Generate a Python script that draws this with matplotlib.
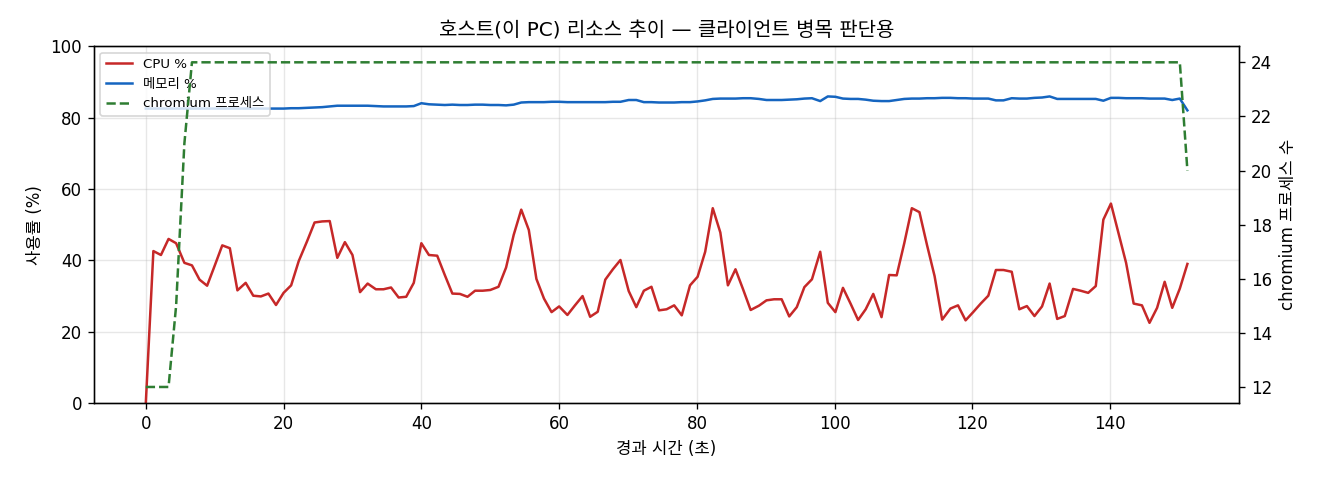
import matplotlib
matplotlib.use("Agg")
import matplotlib.pyplot as plt

plt.rcParams['font.family'] = ['DejaVu Sans', 'Noto Sans CJK KR']

# 경과 시간 (초)
elapsed = [
    0.0, 1.1, 2.2, 3.3, 4.4, 5.6, 6.7, 7.8, 8.9, 10.0,
    11.1, 12.2, 13.3, 14.5, 15.6, 16.7, 17.8, 18.9, 20.0, 21.1,
    22.2, 23.4, 24.5, 25.6, 26.7, 27.8, 28.9, 30.0, 31.1, 32.2,
    33.4, 34.5, 35.6, 36.7, 37.8, 38.9, 40.0, 41.1, 42.3, 43.4,
    44.5, 45.6, 46.7, 47.8, 48.9, 50.0, 51.2, 52.3, 53.4, 54.5,
    55.6, 56.7, 57.8, 58.9, 60.0, 61.2, 62.3, 63.4, 64.5, 65.6,
    66.7, 67.8, 68.9, 70.1, 71.2, 72.3, 73.4, 74.5, 75.6, 76.7,
    77.8, 79.0, 80.1, 81.2, 82.3, 83.4, 84.5, 85.6, 86.7, 87.8,
    89.0, 90.1, 91.2, 92.3, 93.4, 94.5, 95.6, 96.7, 97.9, 99.0,
    100.1, 101.2, 102.3, 103.4, 104.5, 105.6, 106.8, 107.9, 109.0, 110.1,
    111.2, 112.3, 113.4, 114.5, 115.6, 116.8, 117.9, 119.0, 120.1, 121.2,
    122.3, 123.4, 124.5, 125.7, 126.8, 127.9, 129.0, 130.1, 131.2, 132.3,
    133.4, 134.6, 135.7, 136.8, 137.9, 139.0, 140.1, 141.2, 142.3, 143.4,
    144.6, 145.7, 146.8, 147.9, 149.0, 150.1, 151.2,
]

cpu = [
    0.0, 42.6, 41.5, 46.0, 44.8, 39.3, 38.6, 34.6, 32.9, 38.5,
    44.2, 43.4, 31.6, 33.7, 30.1, 29.9, 30.7, 27.5, 30.9, 33.0,
    39.8, 45.3, 50.6, 50.9, 51.0, 40.7, 45.1, 41.5, 31.1, 33.5,
    31.9, 31.9, 32.4, 29.6, 29.8, 33.7, 44.8, 41.5, 41.3, 35.9,
    30.7, 30.6, 29.8, 31.5, 31.5, 31.7, 32.6, 38.0, 47.1, 54.2,
    48.5, 34.8, 29.3, 25.5, 27.1, 24.7, 27.4, 30.0, 24.2, 25.6,
    34.6, 37.5, 40.1, 31.4, 26.9, 31.5, 32.6, 26.0, 26.3, 27.4,
    24.6, 33.0, 35.4, 42.4, 54.6, 47.8, 33.0, 37.5, 31.9, 26.1,
    27.3, 28.8, 29.1, 29.1, 24.3, 26.9, 32.5, 34.7, 42.4, 28.1,
    25.5, 32.3, 27.9, 23.3, 26.3, 30.6, 24.1, 35.9, 35.8, 44.8,
    54.6, 53.5, 44.3, 35.6, 23.4, 26.5, 27.4, 23.2, 25.5, 27.9,
    30.1, 37.3, 37.3, 36.8, 26.3, 27.2, 24.4, 27.1, 33.5, 23.6,
    24.4, 32.0, 31.5, 30.9, 32.8, 51.4, 55.9, 47.6, 39.3, 27.9,
    27.4, 22.5, 26.7, 34.0, 26.7, 32.1, 39.0,
]

mem = [
    82.5, 82.5, 82.5, 82.5, 82.5, 82.5, 82.5, 82.5, 82.5, 82.5,
    82.5, 82.5, 82.5, 82.5, 82.5, 82.5, 82.5, 82.5, 82.5, 82.6,
    82.6, 82.7, 82.8, 82.9, 83.1, 83.3, 83.3, 83.3, 83.3, 83.3,
    83.2, 83.1, 83.1, 83.1, 83.1, 83.2, 84.0, 83.7, 83.6, 83.5,
    83.6, 83.5, 83.5, 83.6, 83.6, 83.5, 83.5, 83.4, 83.6, 84.2,
    84.3, 84.3, 84.3, 84.4, 84.4, 84.3, 84.3, 84.3, 84.3, 84.3,
    84.3, 84.4, 84.4, 84.9, 84.9, 84.3, 84.3, 84.2, 84.2, 84.2,
    84.3, 84.3, 84.5, 84.8, 85.2, 85.3, 85.3, 85.3, 85.4, 85.4,
    85.2, 84.9, 84.9, 84.9, 85.0, 85.1, 85.3, 85.4, 84.6, 85.9,
    85.8, 85.3, 85.2, 85.2, 85.0, 84.7, 84.6, 84.6, 84.9, 85.2,
    85.3, 85.3, 85.4, 85.4, 85.5, 85.5, 85.4, 85.4, 85.3, 85.3,
    85.3, 84.8, 84.8, 85.4, 85.3, 85.3, 85.5, 85.6, 85.9, 85.2,
    85.2, 85.2, 85.2, 85.2, 85.2, 84.7, 85.5, 85.5, 85.4, 85.4,
    85.4, 85.3, 85.3, 85.3, 84.9, 85.3, 82.0,
]

chromium = [12, 12, 12, 12, 15, 21] + [24] * 130 + [20]

fig, ax = plt.subplots(figsize=(11, 4), dpi=120)
fig.subplots_adjust(left=0.071, right=0.939, top=0.904, bottom=0.160)

l1, = ax.plot(elapsed, cpu, color='#c62828', lw=1.5, label='CPU %')
l2, = ax.plot(elapsed, mem, color='#1565c0', lw=1.5, label='메모리 %')
ax.set_ylim(0, 100)
ax.set_xlabel('경과 시간 (초)')
ax.set_ylabel('사용률 (%)')
ax.grid(True, alpha=0.3)

ax2 = ax.twinx()
l3, = ax2.plot(elapsed, chromium, color='#2e7d32', lw=1.5, ls='--', label='chromium 프로세스')
ax2.set_ylabel('chromium 프로세스 수')

ax.legend(handles=[l1, l2, l3], loc='upper left', fontsize=8)
ax.set_title('호스트(이 PC) 리소스 추이 — 클라이언트 병목 판단용')

fig.savefig('out.png')
